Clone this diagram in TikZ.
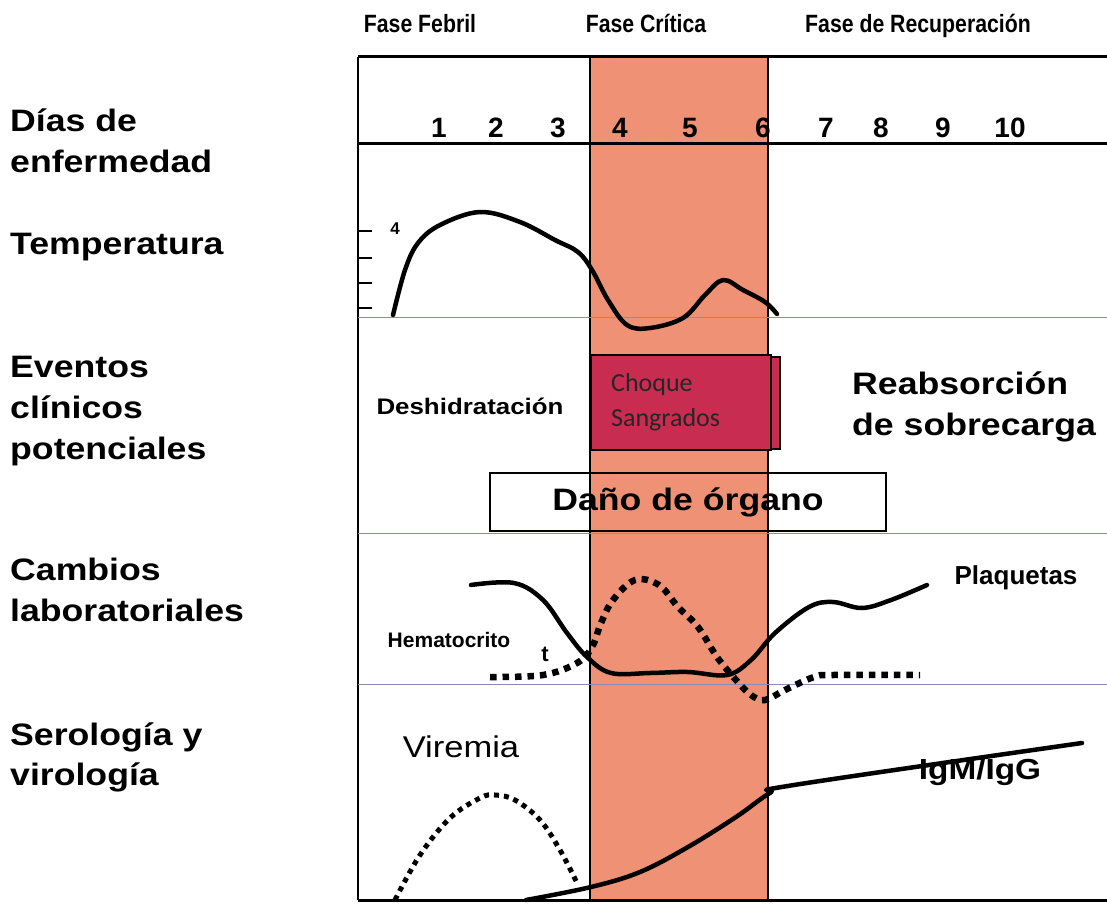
\documentclass[tikz,border=0pt]{standalone}
\usepackage{fontspec}
\setmainfont{Liberation Sans}
\newfontfamily\widesf[FakeStretch=1.15]{Liberation Sans}
\newfontfamily\narrowsf[FakeStretch=0.85]{Liberation Sans}
\newfontfamily\calsf{Carlito}
\usetikzlibrary{positioning}
\definecolor{bandpink}{RGB}{238,145,117}
\definecolor{shockred}{RGB}{200,44,80}
\definecolor{gridgray}{RGB}{140,140,175}

\begin{document}
\begin{tikzpicture}[x=1pt, y=-1pt,
			rowlab/.style={anchor=base west, inner sep=0pt, font=\widesf\bfseries\fontsize{31}{36}\selectfont},
			phase/.style={anchor=base, inner sep=0pt, font=\narrowsf\bfseries\fontsize{25}{28}\selectfont},
			daynum/.style={anchor=base, inner sep=0pt, font=\bfseries\fontsize{28}{30}\selectfont},
			event/.style={inner sep=0pt, font=\widesf\bfseries\fontsize{31}{41}\selectfont},
			curve/.style={line width=4.5pt, line cap=round, line join=round},
			dotcurve/.style={line width=6.5pt, dash pattern=on 6.5pt off 6pt},
			thinrule/.style={gridgray, line width=0.8pt},
			thickrule/.style={line width=3pt}]
			\useasboundingbox (0,0) rectangle (1107,904);
			% critical phase band
			\fill[bandpink] (590,57) rectangle (768,900);
			\draw[line width=2pt] (590,57) -- (590,900);
			\draw[line width=2pt] (768,57) -- (768,900);
			% frame
			\draw[thickrule] (358,57) -- (1107,57);
			\draw[thickrule] (358,144) -- (1107,144);
			\draw[thickrule] (358,900) -- (1107,900);
			\draw[line width=2pt] (358,57) -- (358,900);
			\draw[thinrule] (358,317) -- (1107,317);
			\draw[thinrule] (358,533) -- (1107,533);
			\draw[thinrule] (358,684) -- (1107,684);
			% phases
			\node[phase] (febril) at (420,33) {Fase Febril};
			\node[phase] (critica) at (646,33) {Fase Crítica};
			\node[phase] (recup) at (918,33) {Fase de Recuperación};
			% days
			\foreach \d/\dx in {1/439,2/496,3/558,4/620,5/690,6/763,7/826,8/881,9/943,10/1010}
				\node[daynum] (day\d) at (\dx,138) {\d};
			% row labels
			\node[rowlab] (dias) at (10,132) {Días de};
			\node[rowlab] (enferm) at (10,173) {enfermedad};
			\node[rowlab] (temp) at (10,254) {Temperatura};
			\node[rowlab] (event1) at (10,377) {Eventos};
			\node[rowlab] (event2) at (10,418) {clínicos};
			\node[rowlab] (event3) at (10,459) {potenciales};
			\node[rowlab] (lab1) at (10,580) {Cambios};
			\node[rowlab] (lab2) at (10,621) {laboratoriales};
			\node[rowlab] (sero1) at (10,745) {Serología y};
			\node[rowlab] (sero2) at (10,785) {virología};
			% temperature
			\foreach \ty in {231,258,283,308}
				\draw[line width=2pt] (358,\ty) -- (372,\ty);
			\node[inner sep=0pt, font=\bfseries\fontsize{17}{19}\selectfont] (four) at (395,229) {4};
			\draw[curve] plot[smooth, tension=0.6] coordinates {(393,315) (405,270) (418,243) (440,225) (480,212) (520,222) (555,240) (578,252) (592,270) (608,300) (627,325) (650,328) (683,318) (705,295) (723,280) (743,290) (765,302) (777,314)};
			% clinical events
			\node[event, font=\widesf\bfseries\fontsize{22.5}{26}\selectfont] (deshid) at (470,406) {Deshidratación};
			\draw[fill=shockred, line width=1.2pt] (600,357) rectangle (780,449);
			\draw[fill=shockred, line width=1.5pt] (591,355) rectangle (771,450);
			\node[inner sep=0pt, anchor=west, align=left, text=black!85, font=\calsf\fontsize{26}{35}\selectfont] (choque) at (611,402) {Choque\\Sangrados};
			\node[event, align=left, anchor=west] (reabs) at (852,407) {Reabsorción\\de sobrecarga};
			\draw[line width=2.5pt] (490,473) rectangle (886,531);
			\node[event] (dano) at (688,502) {Daño de órgano};
			% laboratory changes
			\node[inner sep=0pt, font=\bfseries\fontsize{21}{23}\selectfont] (hemato) at (449,640) {Hematocrito};
			\node[inner sep=0pt, font=\bfseries\fontsize{22}{24}\selectfont] (tfrag) at (545,654) {t};
			\node[inner sep=0pt, font=\bfseries\fontsize{26}{28}\selectfont] (plaq) at (1016,578) {Plaquetas};
			\draw[curve] plot[smooth, tension=0.6] coordinates {(471,585) (514,583) (543,600) (567,633) (587,657) (611,673) (650,673) (688,672) (727,675) (751,660) (775,633) (809,607) (833,602) (862,608) (891,600) (927,585)};
			\draw[dotcurve] plot[smooth, tension=0.6] coordinates {(490,677) (543,675) (577,663) (592,647) (601,623) (613,600) (635,580) (659,585) (678,607) (698,627) (717,657) (736,680) (751,695) (765,700) (785,690) (814,677) (833,675) (920,675)};
			% serology and virology
			\node[inner sep=0pt, font=\widesf\fontsize{30}{34}\selectfont] (viremia) at (461,747) {Viremia};
			\draw[line width=5pt, dash pattern=on 5pt off 5pt] plot[smooth, tension=0.6] coordinates {(395,900) (420,855) (450,818) (480,798) (495,795) (515,800) (540,820) (560,850) (578,885)};
			\node[inner sep=0pt, anchor=base, font=\widesf\bfseries\fontsize{29}{32}\selectfont] (igg) at (980,779) {IgM/IgG};
			\draw[curve] plot[smooth, tension=0.6] coordinates {(526,900) (591,887) (640,872) (688,847) (736,817) (770,793) (794,785) (1082,743)};
		\end{tikzpicture}
\end{document}
